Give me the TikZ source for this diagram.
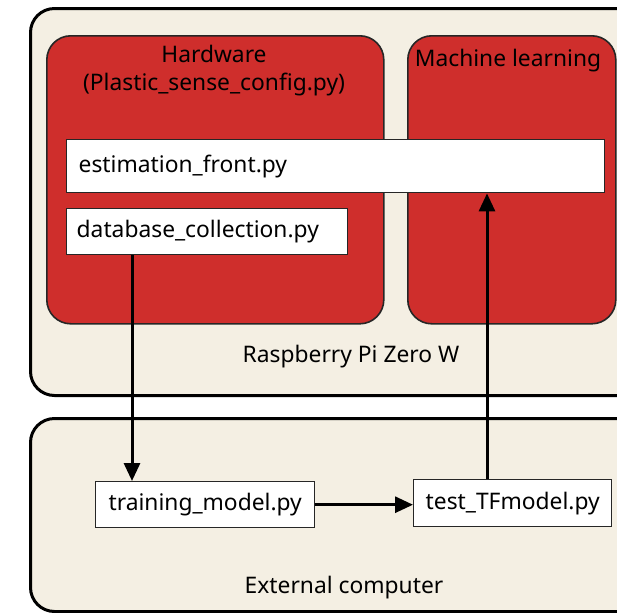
\documentclass[tikz,border=0pt]{standalone}
\usepackage{fontspec}
\setmainfont{Noto Sans}
\usetikzlibrary{arrows.meta}

\definecolor{cream}{HTML}{F4EFE3}
\definecolor{hwred}{HTML}{CF2E2C}

\tikzset{
    host/.style={draw=black, line width=1.5pt, fill=cream, rounded corners=12pt,
        anchor=north west, inner sep=0pt},
    group/.style={draw=black!85, line width=0.8pt, fill=hwred, rounded corners=12pt,
        anchor=north west, inner sep=0pt},
    script/.style={draw=black!85, line width=0.7pt, fill=white, anchor=north west,
        font=\fontsize{11.4}{13}\selectfont},
    caption/.style={font=\fontsize{11.4}{14}\selectfont, align=center},
    flow/.style={line width=1.5pt, -{Triangle[length=9pt,width=8pt]}}
}

\begin{document}
\begin{tikzpicture}[x=0.5pt, y=-0.5pt]
    \useasboundingbox (0,0) rectangle (617,612);
    \clip (0,0) rectangle (617,612);

    % hosts
    \node[host, minimum width=305.5pt, minimum height=193.5pt] (pi) at (29,7) {};
    \node[host, minimum width=305.5pt, minimum height=96.5pt] (pc) at (29,417) {};

    % groups on the Pi
    \node[group, minimum width=168.5pt, minimum height=144pt] (hw) at (46,35) {};
    \node[group, minimum width=104pt, minimum height=144pt] (ml) at (407,35) {};

    \node[caption] (hwtitle) at (214,71) {Hardware\\(Plastic\_sense\_config.py)};
    \node[caption] (mltitle) at (508,61) {Machine learning};
    \node[caption] (pititle) at (351,357) {Raspberry Pi Zero W};
    \node[caption] (pctitle) at (344,588) {External computer};

    % scripts
    \node[script, text width=257pt, inner xsep=6pt, minimum height=26.5pt, align=left]
        (est) at (66,139) {estimation\_front.py};
    \node[script, text width=130.5pt, inner xsep=5pt, minimum height=23pt, align=left]
        (db) at (66,208) {database\_collection.py};
    \node[script, minimum width=109.5pt, minimum height=23pt] (train) at (95,481) {training\_model.py};
    \node[script, minimum width=99pt, minimum height=23.5pt] (test) at (413,479) {test\_TFmodel.py};

    \draw[flow] ([xshift=33pt]db.south west) -- ([xshift=33pt]db.south west |- train.north);
    \draw[flow] (train.east) -- (train.east -| test.west);
    \draw[flow] ([xshift=37pt]test.north west) -- ([xshift=37pt]test.north west |- est.south);
\end{tikzpicture}
\end{document}
